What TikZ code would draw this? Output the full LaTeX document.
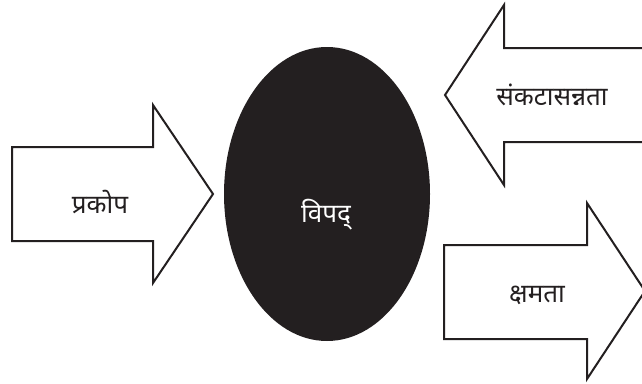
\documentclass[tikz,border=0pt]{standalone}
\usepackage{fontspec}
\newfontfamily\deva[Script=Devanagari]{Noto Sans}
\definecolor{inkblack}{RGB}{35,31,32}
\begin{document}
\begin{tikzpicture}[x=1pt,y=-1pt,
  arrowshape/.style={draw=inkblack,line width=2pt,line join=miter,fill=white},
  lbl/.style={font=\deva\fontsize{26}{30}\selectfont,text=inkblack,anchor=base,inner sep=0pt},
  disc/.style={fill=inkblack,draw=none}]
\useasboundingbox (0,0) rectangle (642,383);
% left arrow (prakop)
\draw[arrowshape] (12,147) -- (153,147) -- (153,105) -- (213,194) -- (153,283) -- (153,241) -- (12,241) -- cycle;
\node[lbl] (prakop) at (100,213) {प्रकोप};
% ellipse (vipad)
\fill[disc] (327,194) ellipse [x radius=103, y radius=147];
\node[lbl,text=white] (vipad) at (326,222) {विपद्};
% top right arrow (sankatasannata)
\draw[arrowshape] (660,48) -- (504,48) -- (504,5) -- (445,95) -- (504,185) -- (504,142) -- (660,142);
\node[lbl] (sankat) at (552,105) {संकटासन्नता};
% bottom right arrow (kshamata)
\draw[arrowshape] (444,245) -- (587,245) -- (587,203) -- (645,291) -- (587,379) -- (587,339) -- (444,339) -- cycle;
\node[lbl] (kshamata) at (537,302) {क्षमता};
\end{tikzpicture}
\end{document}
